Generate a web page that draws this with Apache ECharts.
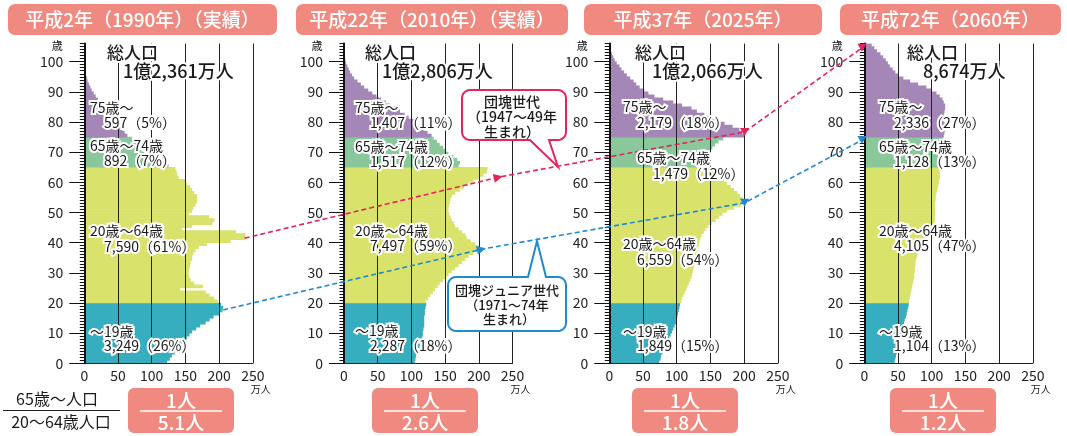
<!DOCTYPE html>
<html><head><meta charset="utf-8">
<script src="https://cdn.jsdelivr.net/npm/echarts@6/dist/echarts.min.js"></script>
<style>html,body{margin:0;padding:0;background:#fff}#c{width:1067px;height:436px}</style>
</head><body><div id="c"></div>
<script>
// ---------- data ----------
const ages = Array.from({length: 106}, (_, i) => i);   // age categories 0..105
const xTickValues = [0, 50, 100, 150, 200, 250];
const yTickValues = [0, 10, 20, 30, 40, 50, 60, 70, 80, 90, 100];
const panelTitles = ['平成2年（1990年）（実績）', '平成22年（2010年）（実績）', '平成37年（2025年）', '平成72年（2060年）'];
const totalLabels = ['1億2,361万人', '1億2,806万人', '1億2,066万人', '8,674万人'];
const groupNames = ['75歳～', '65歳～74歳', '20歳～64歳', '～19歳'];
const groupValues1990 = ['597（5%）', '892（7%）', '7,590（61%）', '3,249（26%）'];
const groupValues2010 = ['1,407（11%）', '1,517（12%）', '7,497（59%）', '2,287（18%）'];
const groupValues2025 = ['2,179（18%）', '1,479（12%）', '6,559（54%）', '1,849（15%）'];
const groupValues2060 = ['2,336（27%）', '1,128（13%）', '4,105（47%）', '1,104（13%）'];
const ratioTop = '1人';
const ratioBottom = ['5.1人', '2.6人', '1.8人', '1.2人'];

// population by single year of age (万人), ages 0..105
const pop1990 = [123,127,130,134,138,141,145,148,152,156,
  160,166,172,180,186,192,200,205,206,203,
  198,193,186,180,142,176,163,158,156,155,
  155,156,157,158,160,160,162,165,170,182,
  217,239,239,225,145,160,190,193,185,155,
  160,162,165,167,167,167,163,160,157,152,
  150,140,138,137,135,
  125,112,104,98,92,85,80,77,74,71,
  64,60,56,52,48,47,43,39,35,31,
  27,23,20,17,14,11,9,7,5,4,
  2,1,0,0,0,0,0,0,0,0,0];
const pop2010 = [105,106,107,108,110,112,113,115,116,117,
  117,118,119,119,119,119,120,120,121,122,
  121,125,128,132,135,139,142,147,152,155,
  160,165,170,175,180,185,192,198,200,195,
  188,182,180,175,170,165,163,160,158,156,
  155,155,156,157,158,160,165,172,178,184,
  192,200,207,212,213,
  170,172,168,162,155,150,147,142,138,133,
  130,124,118,112,107,103,96,90,83,76,
  68,62,55,48,42,36,30,25,20,15,
  12,9,7,5,3,2,1,0,0,0,0];
const pop2025 = [74,76,77,79,81,83,85,87,89,91,
  93,95,97,99,100,101,102,103,104,105,
  107,108,110,112,114,116,118,120,122,123,
  124,125,126,127,128,129,130,131,132,133,
  134,135,137,140,143,147,152,158,163,168,
  175,185,195,200,198,194,190,185,180,175,
  170,167,165,165,166,
  136,138,141,144,147,150,153,157,162,169,
  200,197,193,183,171,156,148,141,130,122,
  108,95,80,67,58,52,45,40,36,31,
  26,22,18,15,11,8,6,4,2,1,0];
const pop2060 = [45,46,47,48,49,50,51,52,53,54,
  55,56,57,59,60,62,63,64,65,66,
  66,67,68,69,70,71,72,73,74,74,
  75,75,76,76,77,78,79,81,84,87,
  90,93,96,99,101,103,104,105,105,105,
  105,105,105,105,106,106,107,108,109,110,
  111,112,112,112,113,
  110,110,110,111,112,113,114,115,116,117,
  118,119,120,120,119,119,118,118,119,120,
  120,118,116,112,107,100,92,80,68,58,
  50,46,42,38,35,32,28,24,19,15,11];

// annotation anchor points [panel, value(万人), age]
const dankaiPoints = [[0, 238, 41.5], [1, 231, 61.8], [2, 200.7, 76.7], [3, -3.4, 104.6]];
const juniorPoints = [[0, 206, 17.7], [1, 206, 37.9], [2, 200.7, 53.2], [3, -3.4, 74]];

// ---------- layout / style ----------
const FONT = "'Noto Sans CJK JP','Noto Sans',sans-serif";
const GL = [84.3, 344, 609.3, 864.3], GT = 43.6, GW = 168.5, GH = 319.7;
const COL = {teal: '#36AEBF', yellow: '#D9E26A', green: '#8AC79B', purple: '#A487B6'};
const SALMON = '#F08A80', RED = '#E5245C', BLUE = '#1E8AD2';
function colorFor(a) { return a < 20 ? COL.teal : a < 65 ? COL.yellow : a < 75 ? COL.green : COL.purple; }

const pops = [pop1990, pop2010, pop2025, pop2060];
const groupValues = [groupValues1990, groupValues2010, groupValues2025, groupValues2060];

const grid = [], xAxis = [], yAxis = [], series = [];
pops.forEach((pop, k) => {
  grid.push({left: GL[k], top: GT, width: GW, height: GH});
  xAxis.push({type: 'value', gridIndex: k, min: 0, max: 250, interval: 50, z: 5,
    axisLine: {show: true, onZero: false, lineStyle: {color: '#222', width: 1}},
    axisTick: {show: false},
    axisLabel: {fontSize: 14, color: '#222', margin: 5, fontFamily: FONT},
    splitLine: {show: true, lineStyle: {color: '#222', width: 1}}});
  yAxis.push({type: 'category', gridIndex: k, position: 'left', data: ages, boundaryGap: true, z: 5,
    axisLine: {show: true, onZero: false, lineStyle: {color: '#111', width: 2}},
    axisTick: {show: true, interval: 0, length: 4.5, alignWithLabel: false, lineStyle: {color: '#111', width: 1}},
    axisLabel: {show: false}, splitLine: {show: false}});
  yAxis.push({type: 'value', gridIndex: k, position: 'left', min: 0, max: 106, z: 5,
    axisLine: {show: false, onZero: false},
    axisTick: {show: true, length: 15, customValues: yTickValues, lineStyle: {color: '#111', width: 1}},
    axisLabel: {show: true, customValues: yTickValues, margin: 21, fontSize: 14, color: '#222', fontFamily: FONT},
    splitLine: {show: false}});
  series.push({type: 'bar', xAxisIndex: k, yAxisIndex: 2 * k, barWidth: 3.7, z: 2, silent: true,
    data: pop.map((v, i) => ({value: v, itemStyle: {color: colorFor(i)}}))});
});

const chart = echarts.init(document.getElementById('c'));
chart.setOption({animation: false, backgroundColor: '#fff', grid, xAxis, yAxis, series});

// ---------- annotations ----------
function txt(x, y, text, size, opt) {
  opt = opt || {};
  return {type: 'text', x, y, z: opt.z || 30, silent: true,
    style: {text, fill: opt.fill || '#1a1a1a', font: (opt.weight || 'normal') + ' ' + size + 'px ' + FONT,
      align: opt.align || 'left', verticalAlign: 'middle', textAlign: opt.align || 'left', textVerticalAlign: 'middle',
      stroke: opt.halo === false ? null : (opt.halo || '#fff'), lineWidth: opt.halo === false ? 0 : 4}};
}
const G = [];
// title boxes
const titleBoxes = [[8, 277], [296, 568], [584, 822], [840, 1061]];
titleBoxes.forEach((b, k) => {
  G.push({type: 'rect', z: 20, shape: {x: b[0], y: 4, width: b[1] - b[0], height: 31, r: 7}, style: {fill: SALMON}});
  G.push(txt((b[0] + b[1]) / 2, 20, panelTitles[k], 19, {fill: '#fff', halo: false, align: 'center', weight: 500}));
});
// totals
const totalPos = [[107, 123], [365, 382], [635, 652], [907, 923]];
totalPos.forEach((p, k) => {
  G.push(txt(p[0], 53, '総人口', 17, {weight: 500}));
  G.push(txt(p[1], 71, totalLabels[k], 18, {weight: 500}));
});
// group labels [nameX, valueX, nameY, valueY] per group
const labelPos = [
  [[90, 104, 108, 123], [90, 104, 146, 161], [90, 104, 231, 247], [90, 104, 332, 346]],
  [[355, 370, 108, 123], [355, 370, 147, 162], [355, 370, 231, 246], [355, 370, 331, 346]],
  [[623, 637, 107, 123], [637, 653, 158, 174], [623, 637, 244, 260], [623, 637, 332, 346]],
  [[879, 894, 107, 123], [879, 894, 147, 162], [879, 894, 231, 246], [879, 894, 332, 346]]];
labelPos.forEach((pp, k) => pp.forEach((p, g) => {
  G.push(txt(p[0], p[2], groupNames[g], 14));
  G.push(txt(p[1], p[3], groupValues[k][g], 14));
}));
// axis unit labels
GL.forEach((l) => {
  G.push(txt(l - 27, 46, '歳', 11, {halo: false, align: 'center'}));
  G.push(txt(l + GW + 8, 389, '万人', 10, {halo: false, align: 'center'}));
});
// dashed arrows
function px(p) { return chart.convertToPixel({xAxisIndex: p[0], yAxisIndex: 2 * p[0] + 1}, [p[1], p[2]]); }
function arrow(points, color) {
  const P = points.map(px);
  G.push({type: 'polyline', z: 25, silent: true, shape: {points: P},
    style: {stroke: color, lineWidth: 1.6, lineDash: [5, 3], fill: null}});
  const a = P[0], b = P[1];
  const dx = b[0] - a[0], dy = b[1] - a[1], L = Math.hypot(dx, dy), ux = dx / L, uy = dy / L;
  G.push({type: 'polygon', z: 26, silent: true, shape: {points: [
    [b[0] + ux * 3, b[1] + uy * 3],
    [b[0] - ux * 6 - uy * 4.5, b[1] - uy * 6 + ux * 4.5],
    [b[0] - ux * 6 + uy * 4.5, b[1] - uy * 6 - ux * 4.5]]}, style: {fill: color}});
  [P[2], P[3]].forEach((q) => {
    G.push({type: 'polygon', z: 26, silent: true, shape: {points: [[q[0] - 4.5, q[1] - 4], [q[0] + 4.5, q[1] - 4], [q[0], q[1] + 4]]},
      style: {fill: color}});
  });
}
arrow(dankaiPoints, RED);
arrow(juniorPoints, BLUE);
// callouts
function calloutPts(x, y, w, h, r, side, a, b, tip) {
  const pts = [];
  const arc = (cx, cy, s, e) => { for (let i = 0; i <= 6; i++) { const t = (s + (e - s) * i / 6) * Math.PI / 180; pts.push([cx + r * Math.cos(t), cy + r * Math.sin(t)]); } };
  pts.push([x + r, y]);
  if (side === 'top') { pts.push([a, y], tip, [b, y]); }
  arc(x + w - r, y + r, -90, 0);
  arc(x + w - r, y + h - r, 0, 90);
  if (side === 'bottom') { pts.push([b, y + h], tip, [a, y + h]); }
  arc(x + r, y + h - r, 90, 180);
  arc(x + r, y + r, 180, 270);
  return pts;
}
G.push({type: 'polygon', z: 27, silent: true, shape: {points: calloutPts(462, 90, 104, 50, 8, 'bottom', 530, 549, [558, 167])},
  style: {fill: '#fff', stroke: RED, lineWidth: 2}});
G.push(txt(512, 102, '団塊世代', 14, {halo: false, align: 'center', z: 31, weight: 500}));
G.push(txt(512, 117, '（1947～49年', 14, {halo: false, align: 'center', z: 31, weight: 500}));
G.push(txt(512, 132, '生まれ）', 14, {halo: false, align: 'center', z: 31, weight: 500}));
G.push({type: 'polygon', z: 27, silent: true, shape: {points: calloutPts(448, 277, 118, 54, 8, 'top', 528, 546, [537, 241])},
  style: {fill: '#fff', stroke: BLUE, lineWidth: 2}});
G.push(txt(507, 290, '団塊ジュニア世代', 13, {halo: false, align: 'center', z: 31, weight: 500}));
G.push(txt(507, 305, '（1971～74年', 13, {halo: false, align: 'center', z: 31, weight: 500}));
G.push(txt(509, 319, '生まれ）', 13, {halo: false, align: 'center', z: 31, weight: 500}));
// ratio row
G.push(txt(57, 399, '65歳～人口', 16, {halo: false, align: 'center'}));
G.push({type: 'line', z: 20, shape: {x1: 3, y1: 410.5, x2: 120, y2: 410.5}, style: {stroke: '#222', lineWidth: 1.2}});
G.push(txt(61, 422, '20～64歳人口', 16, {halo: false, align: 'center'}));
const ratioBoxes = [128, 372, 632, 890];
ratioBoxes.forEach((x, k) => {
  const cx = x + 53;
  G.push({type: 'rect', z: 20, shape: {x, y: 388, width: 106, height: 45, r: 6}, style: {fill: SALMON}});
  G.push(txt(cx, 401, ratioTop, 19, {fill: '#fff', halo: false, align: 'center', weight: 500}));
  G.push({type: 'line', z: 21, shape: {x1: cx - 41, y1: 411, x2: cx + 41, y2: 411}, style: {stroke: '#fff', lineWidth: 1.5}});
  G.push(txt(cx, 423, ratioBottom[k], 19, {fill: '#fff', halo: false, align: 'center', weight: 500}));
});
chart.setOption({graphic: {elements: G}});
</script></body></html>
